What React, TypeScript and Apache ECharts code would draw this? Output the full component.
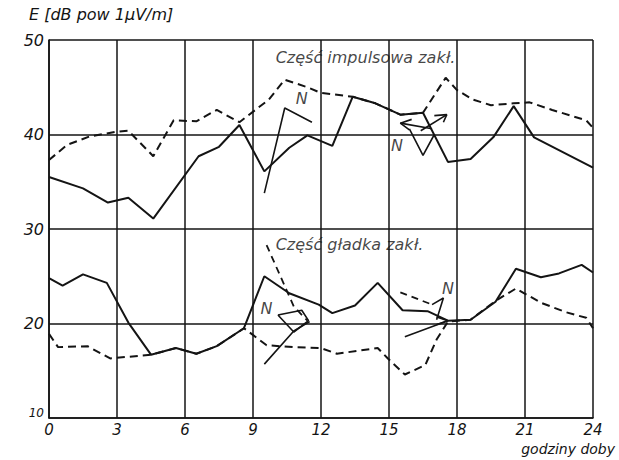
import React, { useEffect, useRef } from "react";
import * as echarts from "echarts";

// hours of the day (x) and field strength E in dB above 1 µV/m (y)
const xTicks = [0, 3, 6, 9, 12, 15, 18, 21, 24];
const yTicks = [10, 20, 30, 40, 50];

const impulseSolid: number[][] = [
  [0, 35.5], [1.5, 34.3], [2.6, 32.8], [3.5, 33.3], [4.6, 31.1], [6.6, 37.7], [7.5, 38.7],
  [8.4, 41.0], [9.5, 36.1], [10.6, 38.6], [11.4, 39.9], [12.5, 38.8], [13.4, 44.0], [14.4, 43.3],
  [15.5, 42.1], [16.5, 42.3], [17.6, 37.1], [18.6, 37.4], [19.6, 39.7], [20.5, 43.0], [21.4, 39.7],
  [24, 36.5],
];
const impulseDashed: number[][] = [
  [0, 37.3], [0.8, 38.9], [1.8, 39.8], [3.0, 40.3], [3.5, 40.4], [4.6, 37.7], [5.5, 41.5],
  [6.5, 41.4], [7.4, 42.6], [8.4, 41.3], [9.7, 43.7], [10.4, 45.8], [11.4, 45.0], [12.0, 44.4],
  [13.4, 44.0], [14.4, 43.3], [15.5, 42.1], [16.5, 42.3], [17.5, 46.0], [18.0, 44.7], [18.7, 43.7],
  [19.5, 43.1], [20.5, 43.3], [21.2, 43.4], [22.2, 42.6], [23.7, 41.5], [24, 40.7],
];
const smoothSolid: number[][] = [
  [0, 24.8], [0.6, 24.0], [1.5, 25.2], [2.55, 24.3], [3.5, 20.1], [4.5, 16.7], [5.6, 17.4],
  [6.5, 16.8], [7.4, 17.6], [8.6, 19.5], [9.5, 25.0], [10.6, 23.2], [11.9, 22.0], [12.5, 21.1],
  [13.5, 21.9], [14.5, 24.3], [15.6, 21.4], [16.7, 21.3], [17.6, 20.3], [18.6, 20.4], [19.7, 22.3],
  [20.6, 25.8], [21.7, 24.9], [22.5, 25.3], [23.5, 26.2], [24, 25.4],
];
const smoothDashed: number[][] = [
  [0, 18.9], [0.4, 17.5], [1.7, 17.6], [2.7, 16.3], [4.5, 16.7], [5.6, 17.4], [6.5, 16.8],
  [7.4, 17.6], [8.6, 19.5], [9.6, 17.7], [10.8, 17.5], [12.0, 17.4], [12.7, 16.8], [14.5, 17.4],
  [14.95, 16.3], [15.7, 14.6], [16.6, 15.6], [17.1, 18.3], [17.6, 20.2], [18.6, 20.4], [19.7, 22.4],
  [20.6, 23.7], [21.7, 22.2], [22.8, 21.2], [23.7, 20.6], [24, 19.5],
];

// "N" direction marks (solid strokes)
const northSolid: number[][][] = [
  [[9.5, 33.8], [10.4, 42.8], [11.6, 41.3]],
  [[16.9, 40.6], [15.5, 41.2]],
  [[16.0, 41.6], [15.5, 41.2], [15.9, 40.5]],
  [[15.9, 40.6], [16.5, 37.8], [17.0, 40.0]],
  [[16.4, 40.4], [17.55, 42.1]],
  [[17.0, 42.0], [17.55, 42.1], [17.4, 41.3]],
  [[9.5, 15.7], [10.8, 19.2], [11.5, 20.2]],
  [[10.1, 20.9], [11.15, 21.4], [11.45, 20.3], [10.8, 19.1], [10.1, 20.9]],
  [[15.7, 18.6], [17.6, 20.3]],
  [[17.1, 20.7], [17.6, 20.3], [17.1, 19.9]],
  [[16.9, 22.0], [17.4, 22.7], [17.1, 20.4]],
];
// "N" direction marks (dashed strokes)
const northDashed: number[][][] = [
  [[9.6, 28.3], [10.8, 21.8], [11.4, 20.3]],
  [[15.5, 23.3], [16.9, 22.0]],
];
const northLabels: number[][] = [
  [11.15, 43.8], [15.35, 38.8], [9.6, 21.6], [17.6, 23.7],
];
// anchor points of the two curve-group captions [hour, dB, text]
const captions: (number | string)[][] = [
  [10.0, 48.1, "Część impulsowa zakł."],
  [10.0, 28.4, "Część gładka zakł."],
];

const labels = {
  yName: "E [dB pow 1µV/m]",
  xName: "godziny doby",
};

const FONT = "DejaVu Sans";
const INK = "#141414";

export default function App() {
  const ref = useRef<HTMLDivElement>(null);
  useEffect(() => {
    document.body.style.margin = "0";
    if (!ref.current) return;
    const chart = echarts.init(ref.current, null, { renderer: "svg" });
    const lineBase = { type: "line", symbol: "none", silent: true, z: 3 } as const;
    const series: any[] = [
      { ...lineBase, data: impulseSolid, lineStyle: { color: INK, width: 2 } },
      { ...lineBase, data: impulseDashed, lineStyle: { color: INK, width: 2, type: [8, 5] } },
      { ...lineBase, data: smoothSolid, lineStyle: { color: INK, width: 2 } },
      { ...lineBase, data: smoothDashed, lineStyle: { color: INK, width: 2, type: [8, 5] } },
    ];
    northSolid.forEach((d) =>
      series.push({ ...lineBase, data: d, lineStyle: { color: INK, width: 1.6 } })
    );
    northDashed.forEach((d) =>
      series.push({ ...lineBase, data: d, lineStyle: { color: INK, width: 1.8, type: [7, 5] } })
    );
    series.push({
      type: "scatter",
      symbolSize: 0,
      silent: true,
      data: northLabels,
      label: {
        show: true,
        position: "inside",
        formatter: "N",
        fontFamily: FONT,
        fontStyle: "italic",
        fontSize: 16,
        color: INK,
      },
    });
    series.push({
      type: "scatter",
      symbolSize: 0,
      silent: true,
      data: captions,
      label: {
        show: true,
        position: "right",
        distance: 0,
        formatter: (p: any) => p.data[2],
        fontFamily: FONT,
        fontStyle: "italic",
        fontSize: 16,
        color: INK,
      },
    });
    chart.setOption({
      animation: false,
      backgroundColor: "#ffffff",
      grid: { left: 49, right: 26, top: 40, bottom: 42 },
      xAxis: {
        type: "value",
        min: xTicks[0],
        max: xTicks[xTicks.length - 1],
        interval: 3,
        axisLine: { show: true, lineStyle: { color: INK, width: 1.6 } },
        axisTick: { show: false },
        splitLine: { show: true, lineStyle: { color: INK, width: 1.5 } },
        axisLabel: {
          margin: 4,
          fontFamily: FONT,
          fontStyle: "italic",
          fontSize: 15,
          color: INK,
        },
      },
      yAxis: {
        type: "value",
        min: yTicks[0],
        max: yTicks[yTicks.length - 1],
        interval: 10,
        axisLine: { show: true, lineStyle: { color: INK, width: 1.6 } },
        axisTick: { show: false },
        splitLine: { show: true, lineStyle: { color: INK, width: 1.5 } },
        axisLabel: {
          margin: 5,
          fontFamily: FONT,
          fontStyle: "italic",
          fontSize: 16,
          color: INK,
          formatter: (v: number) => (v === yTicks[0] ? "{s|" + v + "}" : String(v)),
          rich: {
            s: {
              fontFamily: FONT,
              fontStyle: "italic",
              fontSize: 12,
              color: INK,
              padding: [0, 0, 10, 0],
            },
          },
        },
      },
      graphic: [
        {
          type: "text",
          left: 29,
          top: 6,
          style: {
            text: labels.yName,
            fontFamily: FONT,
            fontStyle: "italic",
            fontSize: 16,
            fill: INK,
          },
        },
        {
          type: "text",
          right: 4,
          top: 442,
          style: {
            text: labels.xName,
            fontFamily: FONT,
            fontStyle: "italic",
            fontSize: 14,
            fill: INK,
          },
        },
      ],
      series,
    });
    return () => chart.dispose();
  }, []);
  return <div ref={ref} style={{ width: 619, height: 460 }} />;
}
